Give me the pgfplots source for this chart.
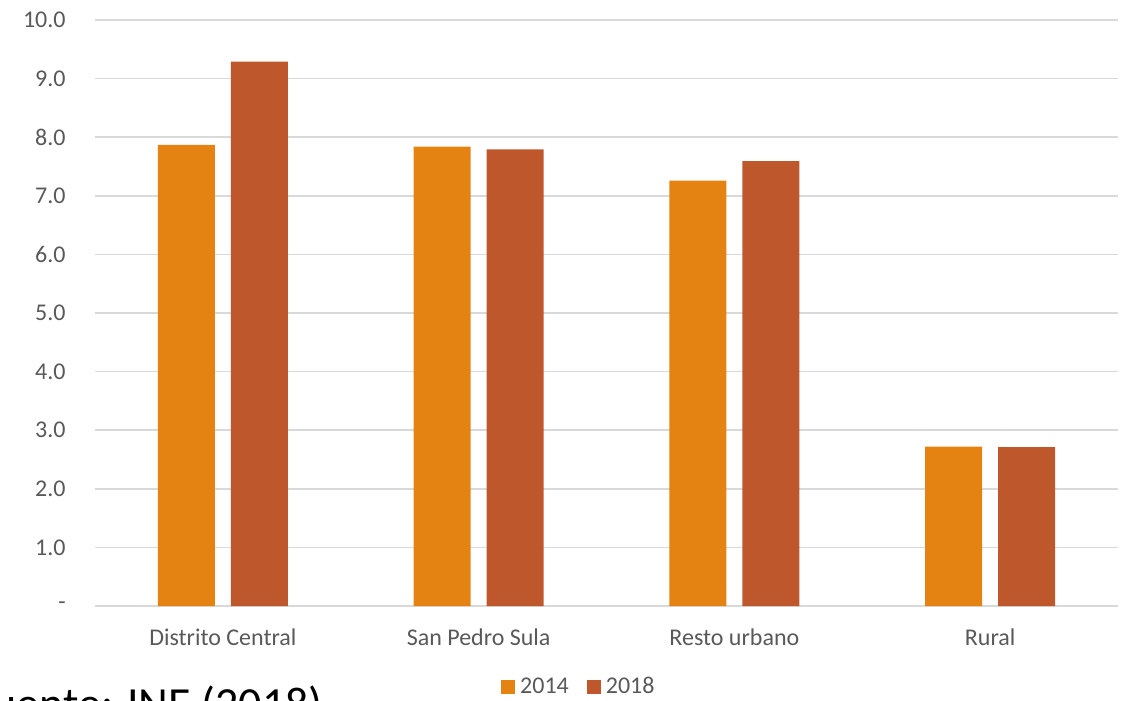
\documentclass[border=0pt]{standalone}
\usepackage{pgfplots}
\pgfplotsset{compat=1.18}
\usepackage{fontspec}
\setmainfont{Carlito}
\definecolor{naranja}{RGB}{228,131,18}
\definecolor{oxido}{RGB}{190,88,44}
\definecolor{rejilla}{RGB}{217,217,217}
\definecolor{texto}{RGB}{89,89,89}
\begin{document}
\begin{tikzpicture}
\path[use as bounding box] (0,0) rectangle (563.5pt,350pt);
\clip (0,0) rectangle (563.5pt,350pt);
\begin{axis}[
    at={(47.5pt,47pt)}, anchor=south west,
    scale only axis,
    width=511.5pt, height=293pt,
    ybar=8pt, bar width=28.5pt,
    xmin=-0.5, xmax=3.5,
    ymin=0, ymax=10,
    xtick=data,
    xticklabels={Distrito Central, San Pedro Sula, Resto urbano, Rural},
    ytick={0,1,...,10},
    yticklabels={{-\hspace{5.5pt}},1.0,2.0,3.0,4.0,5.0,6.0,7.0,8.0,9.0,10.0},
    major tick length=0pt,
    ymajorgrids=true,
    grid style={rejilla, line width=0.8pt},
    axis x line*=bottom,
    axis y line*=left,
    x axis line style={rejilla, line width=0.8pt},
    y axis line style={draw=none},
    tick label style={font=\fontsize{12}{14}\selectfont, text=texto, inner sep=0pt},
    xticklabel style={anchor=base, yshift=-19.5pt},
    yticklabel style={anchor=east, xshift=-14.5pt},
    legend style={at={(axis description cs:0.472,-0.138)}, anchor=center,
        draw=none, fill=none, font=\fontsize{12}{14}\selectfont, text=texto,
        legend columns=2, column sep=2.5pt,
        /tikz/every even column/.append style={column sep=9pt},
        nodes={inner sep=0pt}},
    legend image code/.code={\fill[#1] (0pt,-3.5pt) rectangle (7pt,3.5pt);},
]
\addplot[fill=naranja, draw=none] coordinates {(0,7.87) (1,7.84) (2,7.26) (3,2.72)};
\addplot[fill=oxido, draw=none] coordinates {(0,9.29) (1,7.79) (2,7.59) (3,2.71)};
\legend{2014,2018}
\end{axis}
\node[anchor=base west, inner sep=0pt, font=\fontsize{23}{27}\selectfont] at (-14.5pt,-9.5pt) {Fuente: INE (2018)};
\end{tikzpicture}
\end{document}
